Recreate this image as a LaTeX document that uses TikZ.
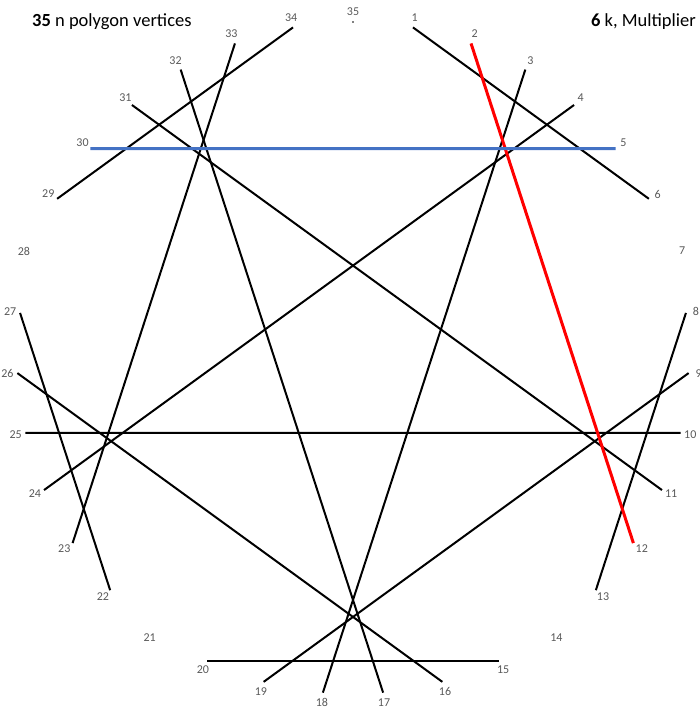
\documentclass[tikz,border=0pt]{standalone}
\usepackage{fontspec}
\setmainfont{Carlito}
\definecolor{lblgray}{HTML}{595959}
\definecolor{xlblue}{HTML}{4472C4}
\tikzset{
  chord/.style={line width=2pt, black},
  redchord/.style={line width=3pt, red},
  bluechord/.style={line width=3pt, xlblue},
  vlabel/.style={text=lblgray, font=\fontsize{12}{12}\selectfont, inner sep=0pt, anchor=center},
  titletext/.style={font=\fontsize{18.5}{20}\selectfont, inner sep=0pt, text=black}
}
\begin{document}
\begin{tikzpicture}[x=1pt,y=-1pt]
\useasboundingbox (0,0) rectangle (700,710);
\foreach \i in {1,...,35}{
  \coordinate (p\i) at ({353+336*cos(90-\i*360/35)},{358-336*sin(90-\i*360/35)});
  \node[vlabel] (l\i) at ({353+346*cos(90-\i*360/35)},{358-346*sin(90-\i*360/35)}) {\i};
}
\node[titletext, anchor=base west] (tl) at (32,26) {\textbf{35} n polygon vertices};
\node[titletext, anchor=base east] (tr) at (696,26) {\textbf{6} k, Multiplier};
\foreach \a/\b in {1/6,3/18,4/24,8/13,9/19,10/25,11/31,15/20,16/26,17/32,22/27,23/33,29/34}{
  \draw[chord] (p\a) -- (p\b);
}
\draw[redchord] (p2) -- (p12);
\draw[bluechord] (p5) -- (p30);
\fill[black] (p35) circle (0.8);
\end{tikzpicture}
\end{document}
